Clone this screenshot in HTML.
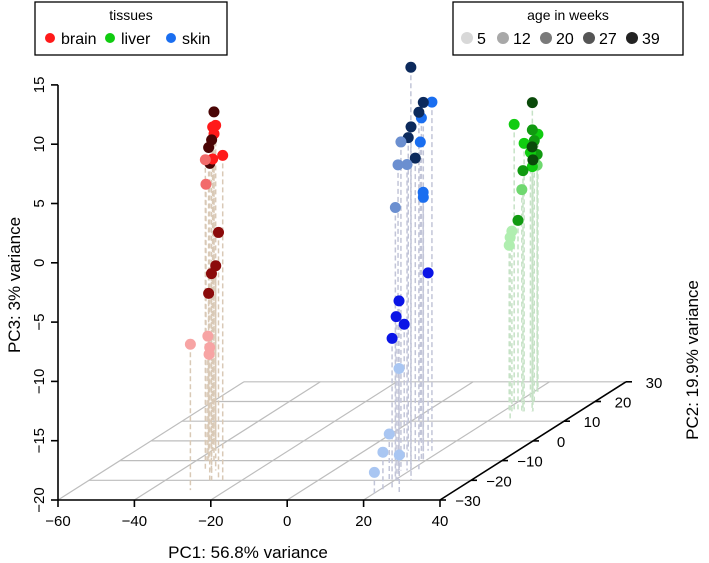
<!DOCTYPE html>
<html><head><meta charset="utf-8"><style>
html,body{margin:0;padding:0;background:#fff;}
svg{display:block;font-family:"Liberation Sans",sans-serif;}
</style></head><body>
<svg id="chart" width="709" height="563" viewBox="0 0 709 563" xmlns="http://www.w3.org/2000/svg">
<g id="floor"></g>
<g id="drops"></g>
<g id="axes"></g>
<g id="points"></g>
<text x="248" y="558" font-size="17" text-anchor="middle">PC1: 56.8% variance</text>
<text transform="translate(20,285) rotate(-90)" font-size="17" text-anchor="middle">PC3: 3% variance</text>
<text transform="translate(698,360) rotate(-90)" font-size="17" text-anchor="middle">PC2: 19.9% variance</text>
<g>
<rect x="35" y="2" width="192" height="53" fill="#fff" stroke="#000" stroke-width="1.3"/>
<text x="131" y="20" font-size="14" text-anchor="middle">tissues</text>
<g><circle cx="50" cy="38" r="5" fill="#ff1a1a"/><text x="61" y="44" font-size="16">brain</text></g>
<g><circle cx="110" cy="38" r="5" fill="#10cc10"/><text x="121" y="44" font-size="16">liver</text></g>
<g><circle cx="171" cy="38" r="5" fill="#1a6ef0"/><text x="182" y="44" font-size="16">skin</text></g>
</g>
<g>
<rect x="453" y="2" width="230" height="53" fill="#fff" stroke="#000" stroke-width="1.3"/>
<text x="568" y="20" font-size="14" text-anchor="middle">age in weeks</text>
<g><circle cx="467" cy="38" r="6" fill="#d8d8d8"/><text x="477" y="44" font-size="16">5</text></g>
<g><circle cx="503" cy="38" r="6" fill="#a8a8a8"/><text x="513" y="44" font-size="16">12</text></g>
<g><circle cx="546" cy="38" r="6" fill="#7a7a7a"/><text x="556" y="44" font-size="16">20</text></g>
<g><circle cx="589" cy="38" r="6" fill="#555"/><text x="599" y="44" font-size="16">27</text></g>
<g><circle cx="632" cy="38" r="6" fill="#222"/><text x="642" y="44" font-size="16">39</text></g>
</g>
</svg>
<script>
const pc1Ticks=[-60,-40,-20,0,20,40];
const pc2Ticks=[-30,-20,-10,0,10,20,30];
const pc3Ticks=[-20,-15,-10,-5,0,5,10,15];
const tissue=["brain","brain","brain","brain","brain","brain","brain","brain","brain","brain","brain","brain","brain","brain","brain","brain","brain","brain","brain",
"skin","skin","skin","skin","skin","skin","skin","skin","skin","skin","skin","skin","skin","skin","skin","skin","skin","skin","skin","skin","skin","skin","skin","skin","skin",
"liver","liver","liver","liver","liver","liver","liver","liver","liver","liver","liver","liver","liver","liver","liver","liver","liver","liver"];
const age=[39,20,20,20,39,39,20,12,20,39,12,27,27,27,27,5,5,5,5,
39,39,27,39,27,39,39,12,27,39,12,12,27,27,12,20,20,20,20,20,5,5,5,5,5,
39,20,27,20,20,27,39,27,20,39,20,27,12,12,27,5,5,5];
const pc1=[-35.4,-39.8,-30.9,-43.5,-27.9,-36.8,-25.0,-33.6,-39.8,-44.6,-37.5,-26.1,-39.0,-32.0,-36.8,-29.4,-37.0,-28.4,-44.8,
20.2,19.4,17.6,22.3,18.9,11.4,24.3,17.6,10.5,17.3,20.9,19.2,15.3,19.4,20.2,16.6,17.1,20.4,14.4,23.4,17.1,18.6,21.0,26.9,21.2,
23.6,22.9,23.6,21.0,25.5,24.1,27.6,20.8,23.1,27.8,23.6,25.2,20.8,24.9,23.9,22.3,25.9,21.6];
const pc2=[-10,-5,-15,0,-20,-10,-20,-15,-5,0,-10,-20,-5,-15,-10,-25,-10,-20,0,
-15,-10,-5,-15,-10,-5,-20,-15,0,-10,-20,-15,-5,-10,-20,-5,-15,-20,-10,-25,-15,-20,-25,-27,-28,
20,15,20,25,15,20,15,25,20,15,20,15,25,15,15,15,10,15];
const pc3=[9.4,7.3,9.1,5.9,8.7,6.4,7.4,6.2,4.6,3.4,3.3,0.9,-4.4,-3.4,-5.9,-7.7,-9.5,-8.8,-12.7,
14.0,10.2,9.4,10.2,8.9,6.4,9.8,7.7,5.2,5.5,6.6,5.8,1.8,2.2,3.0,-5.0,-5.7,-6.2,-8.5,-7.2,-11.4,-16.1,-16.8,-16.7,-18.0,
5.2,4.2,2.9,1.7,2.6,2.0,2.3,0.0,1.0,1.2,-0.2,0.3,-0.9,-1.3,-3.9,-4.8,-4.5,-6.0];
const palette={brain:{5:"#f7a4a4",12:"#f26b6b",20:"#ff1a1a",27:"#8b0a0a",39:"#4a0505"},
skin:{5:"#a9c6f2",12:"#6b8fd0",20:"#0a14e6",27:"#1a6ef0",39:"#0c2a5c"},
liver:{5:"#b0eeb0",12:"#6fd86f",20:"#10cc10",27:"#109a10",39:"#0a4a0a"}};
const dropColor={brain:"#d9c9b6",skin:"#c2c5d8",liver:"#c6e2c6"};
const NS="http://www.w3.org/2000/svg";
function X(a,b){return 58+(a+60)*3.82+(b+30)*3.1;}
function Y(b,c){return 500-(c+20)*11.86-(b+30)*1.97;}
function mk(tag,attrs,parent){const e=document.createElementNS(NS,tag);for(const k in attrs)e.setAttribute(k,attrs[k]);parent.appendChild(e);return e;}
const floor=document.getElementById('floor'),axes=document.getElementById('axes'),drops=document.getElementById('drops'),pts=document.getElementById('points');
pc2Ticks.forEach(b=>{const l=mk('line',{x1:X(-60,b),y1:Y(b,-20),x2:X(40,b),y2:Y(b,-20),stroke:"#bdbdbd","stroke-width":1.2},floor);

});
pc1Ticks.forEach(a=>{const l=mk('line',{x1:X(a,-30),y1:Y(-30,-20),x2:X(a,30),y2:Y(30,-20),stroke:"#bdbdbd","stroke-width":1.2},floor);

});
// axes
let ax=mk('line',{x1:X(-60,-30),y1:Y(-30,-20),x2:X(40,-30),y2:Y(-30,-20),stroke:"#000","stroke-width":1.6},axes);


ax=mk('line',{x1:X(-60,-30),y1:Y(-30,-20),x2:X(-60,-30),y2:Y(-30,15),stroke:"#000","stroke-width":1.6},axes);


ax=mk('line',{x1:X(40,-30),y1:Y(-30,-20),x2:X(40,30),y2:Y(30,-20),stroke:"#000","stroke-width":1.6},axes);


pc1Ticks.forEach(a=>{const x=X(a,-30),y=Y(-30,-20);
const t=mk('line',{x1:x,y1:y,x2:x,y2:y+7,stroke:"#000","stroke-width":1.6},axes);


const tx=mk('text',{x:x,y:y+26,"font-size":15,"text-anchor":"middle"},axes);tx.textContent=String(a).replace('-','\u2212');

});
pc3Ticks.forEach(c=>{const x=X(-60,-30),y=Y(-30,c);
const t=mk('line',{x1:x-7,y1:y,x2:x,y2:y,stroke:"#000","stroke-width":1.6},axes);


const tx=mk('text',{transform:`translate(${x-14},${y}) rotate(-90)`,"font-size":15,"text-anchor":"middle"},axes);tx.textContent=String(c).replace('-','\u2212');

});
pc2Ticks.forEach(b=>{const x=X(40,b),y=Y(b,-20);
const t=mk('line',{x1:x,y1:y,x2:x+6,y2:y,stroke:"#000","stroke-width":1.6},axes);


const tx=mk('text',{x:x+28,y:y+6,"font-size":15,"text-anchor":"middle"},axes);tx.textContent=String(b).replace('-','\u2212');

});
// points sorted back to front
const idx=pc1.map((_,i)=>i).sort((i,j)=>pc2[j]-pc2[i]);
idx.forEach(i=>{const x=X(pc1[i],pc2[i]);
const d=mk('line',{x1:x,y1:Y(pc2[i],pc3[i]),x2:x,y2:Y(pc2[i],-20),stroke:dropColor[tissue[i]],"stroke-width":1.5,"stroke-dasharray":"5,3"},drops);

});
idx.forEach(i=>{const c=mk('circle',{cx:X(pc1[i],pc2[i]),cy:Y(pc2[i],pc3[i]),r:5.5,fill:palette[tissue[i]][age[i]]},pts);

});
</script>
</body></html>
